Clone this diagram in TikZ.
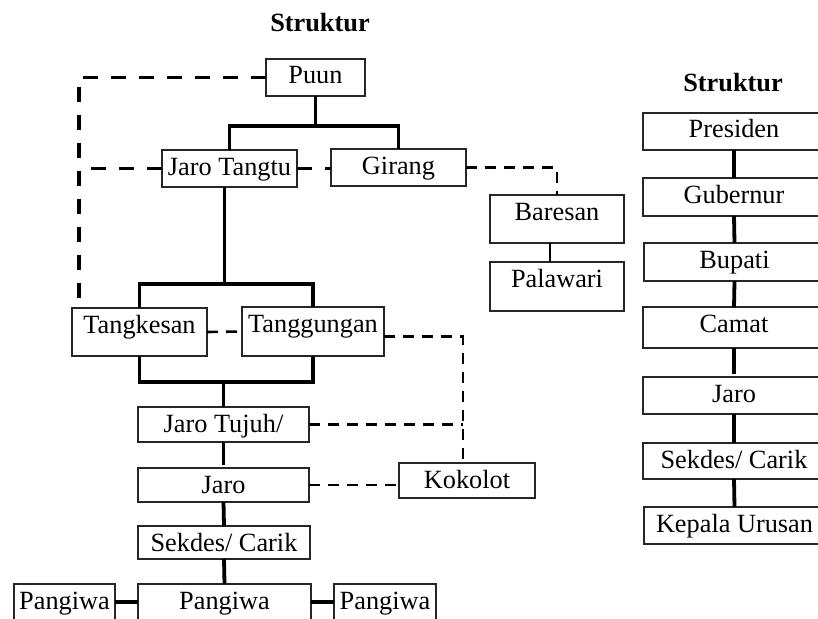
\documentclass[tikz,border=0pt]{standalone}
\usepackage{fontspec}
\setmainfont{Liberation Serif}
\usetikzlibrary{calc}

\tikzset{
  tbox/.style={draw=black!85, line width=1.2bp, inner xsep=0pt, inner ysep=0pt,
    outer sep=0pt, text height=25bp, anchor=north west, align=center,
    font=\fontsize{26.3bp}{30bp}\selectfont},
  heading/.style={anchor=base, inner sep=0pt,
    font=\fontsize{26.3bp}{30bp}\selectfont\bfseries},
  solidthick/.style={line width=3.8bp, line cap=butt, line join=miter},
  solidthin/.style={line width=1.3bp},
  dashthick/.style={line width=3.3bp, dash pattern=on 15bp off 13bp},
  dashmid/.style={line width=2.6bp, dash pattern=on 11bp off 8bp},
  dashthin/.style={line width=2.1bp, dash pattern=on 11bp off 8bp},
}

\begin{document}
\begin{tikzpicture}[x=1bp, y=-1bp]
  \useasboundingbox (0,0) rectangle (818,619);
  \fill[white] (0,0) rectangle (818,619);
  \clip (0,0) rectangle (818,619);

  % headings
  \node[heading] (headA) at (320,32) {Struktur};
  \node[heading] (headB) at (733,92) {Struktur};

  % traditional structure
  \node[tbox, minimum width=99bp,  text depth=12bp] (puun)   at (266,59)  {Puun};
  \node[tbox, minimum width=135bp, text depth=12bp] (jt)     at (162,150) {Jaro Tangtu};
  \node[tbox, minimum width=135bp, text depth=12bp] (girang) at (331,149) {Girang};
  \node[tbox, minimum width=134bp, text depth=23bp] (bares)  at (490,195) {Baresan};
  \node[tbox, minimum width=134bp, text depth=24bp] (palaw)  at (490,262) {Palawari};
  \node[tbox, minimum width=135bp, text depth=23bp] (tk)     at (72,308)  {Tangkesan};
  \node[tbox, minimum width=142bp, text depth=24bp] (tg)     at (242,307) {Tanggungan};
  \node[tbox, minimum width=171bp, text depth=10bp] (jt7)    at (138,407) {Jaro Tujuh/};
  \node[tbox, minimum width=171bp, text depth=9bp]  (jaro)   at (138,468) {Jaro};
  \node[tbox, minimum width=136bp, text depth=10bp] (kok)    at (399,463) {Kokolot};
  \node[tbox, minimum width=172bp, text depth=8bp]  (sek)    at (138,526) {Sekdes/ Carik};
  \node[tbox, minimum width=173bp, text depth=31bp] (pc)     at (138,584) {Pangiwa};
  \node[tbox, minimum width=101bp, text depth=31bp] (pl)     at (14,584)  {Pangiwa};
  \node[tbox, minimum width=102bp, text depth=31bp] (pr)     at (334,584) {Pangiwa};

  % government structure
  \node[tbox, minimum width=182bp, text depth=12bp] (pres)  at (643,113) {Presiden};
  \node[tbox, minimum width=182bp, text depth=13bp] (gub)   at (643,178) {Gubernur};
  \node[tbox, minimum width=181bp, text depth=13bp] (bup)   at (644,243) {Bupati};
  \node[tbox, minimum width=182bp, text depth=16bp] (cam)   at (643,307) {Camat};
  \node[tbox, minimum width=182bp, text depth=12bp] (jaroB) at (643,377) {Jaro};
  \node[tbox, minimum width=182bp, text depth=11bp] (sekB)  at (643,443) {Sekdes/ Carik};
  \node[tbox, minimum width=181bp, text depth=12bp] (kep)   at (644,507) {Kepala Urusan};

  % helper coordinates for buses and bends
  \coordinate (busA) at (0,126);
  \coordinate (busB) at (0,284);
  \coordinate (busC) at (0,382);
  \coordinate (loopx) at (79,0);
  \coordinate (kokx) at (463,0);
  \coordinate (pbar) at (0,602);

  % solid hierarchy lines
  \draw[solidthick] (puun.south) -- (puun.south |- busA);
  \draw[solidthick] (jt.north) |- (girang.north |- busA) -- (girang.north);
  \draw[solidthick] ([xshift=-5bp]jt.south) -- ([xshift=-5bp]jt.south |- busB);
  \draw[solidthick] (tk.north) |- (tg.north |- busB) -- (tg.north);
  \draw[solidthick] (tk.south) |- (tg.south |- busC) -- (tg.south);
  \draw[solidthick] (jt7.north) -- (jt7.north |- busC);
  \draw[solidthick] (jt7.south) -- ([yshift=3bp]jaro.north);
  \draw[solidthick] (jaro.south) -- (sek.north);
  \draw[solidthick] (sek.south) -- (pc.north);
  \draw[solidthick] (pl.east |- pbar) -- (pc.west |- pbar);
  \draw[solidthick] (pc.east |- pbar) -- (pr.west |- pbar);
  \draw[solidthin] ([xshift=-7bp]bares.south) -- ([xshift=-7bp]palaw.north);

  \draw[solidthick] (pres.south) -- (gub.north);
  \draw[solidthick] (gub.south) -- (bup.north);
  \draw[solidthick] (bup.south) -- (cam.north);
  \draw[solidthick] (cam.south) -- ([yshift=3bp]jaroB.north);
  \draw[solidthick] (jaroB.south) -- (sekB.north);
  \draw[solidthick] (sekB.south) -- (kep.north);

  % dashed coordination lines
  \draw[dashthick] (puun.west) -| (loopx |- tk.north);
  \draw[dashthick] (jt.west) -- (loopx |- jt.west);
  \draw[dashthick] (jt.east) -- (girang.west |- jt.east);
  \draw[dashmid] (girang.east) -| (bares.north);
  \draw[dashmid] (tk.east) -- (tg.west);
  \draw[dashthin] ([yshift=-5bp]tg.east) -| (kokx |- kok.north);
  \draw[dashmid] (jt7.east) -- (kokx |- jt7.east);
  \draw[dashmid] (jaro.east) -- (kok.west |- jaro.east);
\end{tikzpicture}
\end{document}
